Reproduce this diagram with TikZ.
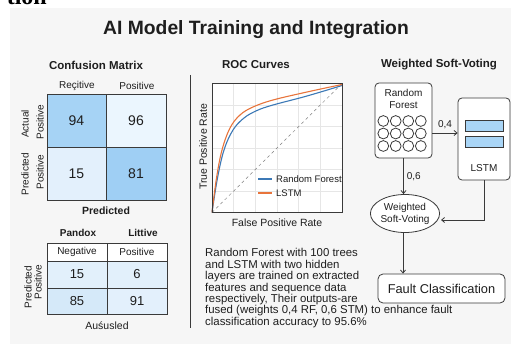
\documentclass[tikz,border=0pt]{standalone}
\usepackage{fontspec}
\setmainfont{Liberation Sans}
\newfontfamily\fragfont{Liberation Serif}
\usetikzlibrary{arrows.meta,shapes.geometric}
\definecolor{panel}{HTML}{F6F6F6}
\definecolor{ink}{HTML}{1E1E1E}
\definecolor{edge}{HTML}{3A3A3A}
\definecolor{cellA}{HTML}{A6D3F5}
\definecolor{cellB}{HTML}{EBF6FE}
\definecolor{cellC}{HTML}{E3F0FC}
\definecolor{cellD}{HTML}{9FCFF4}
\definecolor{cellE}{HTML}{E2F0FB}
\definecolor{cellF}{HTML}{D5E9F9}
\definecolor{barblue}{HTML}{A9D5F6}
\definecolor{rfblue}{HTML}{3C79B6}
\definecolor{lstmorange}{HTML}{E8743B}
\definecolor{gridgray}{HTML}{E6E6E6}
\tikzset{
  lbl/.style={text=ink, inner sep=0pt},
  head/.style={lbl, font=\fontsize{11.5}{13}\selectfont\bfseries},
  small/.style={lbl, font=\fontsize{10}{11}\selectfont},
  cellbox/.style={draw=edge, line width=0.8pt, text=ink, inner sep=0pt},
  numA/.style={cellbox, font=\fontsize{14}{16}\selectfont},
  numB/.style={cellbox, font=\fontsize{13}{15}\selectfont},
  roundbox/.style={draw=edge, line width=0.8pt, rounded corners=4pt, fill=white, inner sep=0pt},
  arr/.style={draw=edge, line width=0.8pt, -{Straight Barb[length=3pt,width=5pt]}},
}
\begin{document}
\begin{tikzpicture}[x=1pt,y=-1pt]
\useasboundingbox (0,0) rectangle (511,344);
\fill[white] (0,0) rectangle (511,344);
\fill[panel] (10,8) rectangle (511,344);
% cropped caption fragment
\node[anchor=base east, inner sep=0pt, font=\fontsize{24}{26}\fragfont\bfseries] (frag) at (47,4.5) {tion};

% title
\node[lbl, font=\fontsize{19.3}{22}\selectfont\bfseries] (title) at (256,30) {AI Model Training and Integration};

% section headings
\node[head] (hcm) at (96,65) {Confusion Matrix};
\node[head] (hroc) at (256,65) {ROC Curves};
\node[head] (hwsv) at (439,65) {Weighted Soft-Voting};

% separator
\draw[edge, line width=0.9pt] (190,75) -- (190,328);

% ---------- confusion matrix 1
\node[small] (c1h1) at (77,86) {Reçitive};
\node[small] (c1h2) at (137,86) {Positive};
\node[numA, fill=cellA, minimum width=59pt, minimum height=53pt] (m11) at (76.5,120.5) {94};
\node[numA, fill=cellB, minimum width=60pt, minimum height=53pt] (m12) at (136,120.5) {96};
\node[numA, fill=cellC, minimum width=59pt, minimum height=53pt] (m21) at (76.5,173.5) {15};
\node[numA, fill=cellD, minimum width=60pt, minimum height=53pt] (m22) at (136,173.5) {81};
\node[small, rotate=90] (r1a) at (25,124) {Actual};
\node[small, rotate=90] (r1b) at (40,122) {Positive};
\node[small, rotate=90] (r2a) at (25,174) {Predicted};
\node[small, rotate=90] (r2b) at (40,172) {Positive};
\node[lbl, font=\fontsize{10.5}{12}\selectfont\bfseries] (c1pred) at (106,211) {Predicted};

% ---------- confusion matrix 2
\node[lbl, font=\fontsize{10}{11}\selectfont\bfseries] (c2h1) at (78,233) {Pandox};
\node[lbl, font=\fontsize{10}{11}\selectfont\bfseries] (c2h2) at (143,233) {Littive};
\node[cellbox, fill=white, font=\fontsize{10}{11}\selectfont, minimum width=60pt, minimum height=18pt] (n11) at (77,252) {Negative};
\node[cellbox, fill=white, font=\fontsize{10}{11}\selectfont, minimum width=60pt, minimum height=18pt] (n12) at (137,252) {Positive};
\node[numB, fill=cellE, minimum width=60pt, minimum height=27pt] (n21) at (77,274.5) {15};
\node[numB, fill=cellE, minimum width=60pt, minimum height=27pt] (n22) at (137,274.5) {6};
\node[numB, fill=cellF, minimum width=60pt, minimum height=26pt] (n31) at (77,301) {85};
\node[numB, fill=cellC, minimum width=60pt, minimum height=26pt] (n32) at (137,301) {91};
\node[small, rotate=90] (r3a) at (28,287) {Predicted};
\node[small, rotate=90] (r3b) at (38,282) {Positive};
\node[lbl, font=\fontsize{10.5}{12}\selectfont] (c2foot) at (107,326) {Auśusled};

% ---------- ROC
\fill[white] (212,83.5) rectangle (342,212.5);
\foreach \k in {1,...,5} {
  \draw[gridgray, line width=0.4pt] (212,83.5+21.5*\k) -- (342,83.5+21.5*\k);
  \draw[gridgray, line width=0.4pt] (212+21.67*\k,83.5) -- (212+21.67*\k,212.5);
}
\draw[gray, dashed, line width=0.5pt] (212,212.5) -- (342,83.5);
\draw[rfblue, line width=1.1pt] plot[smooth, tension=0.6] coordinates {(212,212.5) (217.5,178) (224,150) (233,130) (244,118) (257,110.5) (273,105) (307,96) (342,85.5)};
\draw[lstmorange, line width=1.1pt] plot[smooth, tension=0.6] coordinates {(212,212.5) (216.5,178) (222,150) (230,128) (240,115) (253,107) (273,100) (307,92) (342,84.5)};
\node[draw=edge, line width=0.9pt, minimum width=130pt, minimum height=129pt, inner sep=0pt] (rocbox) at (277,148) {};
\draw[rfblue, line width=1.1pt] (258,179) -- (272,179);
\draw[lstmorange, line width=1.1pt] (258,193) -- (272,193);
\node[lbl, anchor=west, font=\fontsize{9.5}{11}\selectfont] (legrf) at (276,179) {Random Forest};
\node[lbl, anchor=west, font=\fontsize{9.5}{11}\selectfont] (leglstm) at (276,193) {LSTM};
\node[lbl, rotate=90, font=\fontsize{10.5}{12}\selectfont] (ylab) at (203,147) {True Positive Rate};
\node[lbl, font=\fontsize{10.5}{12}\selectfont] (xlab) at (277,223) {False Positive Rate};

% ---------- weighted soft voting
\node[roundbox, minimum width=57pt, minimum height=75pt] (rf) at (403.5,120.5) {};
\node[small, align=center, font=\fontsize{10}{12}\selectfont] (rft) at (403.5,99) {Random\\Forest};
\foreach \cx in {383.3,395.7,408.3,420.8} {
  \foreach \cy in {121,133.5,146} {
    \draw[edge, line width=0.8pt] (\cx,\cy) circle[radius=5.4pt];
  }
}
\node[roundbox, minimum width=52pt, minimum height=82pt] (lstm) at (484,139) {};
\draw[edge, line width=0.7pt, fill=barblue] (465,120) rectangle (503,131);
\draw[edge, line width=0.7pt, fill=barblue] (465,136) rectangle (503,147);
\node[small] (lstmt) at (484,168) {LSTM};
\node[draw=edge, line width=0.8pt, fill=white, ellipse, minimum width=57pt, minimum height=38pt, inner sep=0pt, align=center, text=ink, font=\fontsize{10}{12}\selectfont] (wsv) at (405,213.5) {Weighted\\Soft-Voting};
\node[roundbox, rounded corners=5pt, minimum width=127pt, minimum height=29pt, font=\fontsize{12.8}{14}\selectfont, text=ink] (fault) at (441.5,288.5) {Fault Classification};
\coordinate (wsvin) at (441,220);

\draw[arr] ([yshift=-12.5pt]rf.east) -- ([yshift=6pt]lstm.west) node[lbl, midway, above=4pt, font=\fontsize{10}{11}\selectfont] (w04) {0,4};
\draw[arr] (rf.south) -- (wsv.north -| rf.south) node[lbl, midway, right=3pt, font=\fontsize{10}{11}\selectfont] (w06) {0,6};
\draw[arr] (lstm.south) |- (wsvin);
\draw[arr] (wsv.south -| 403,0) -- (fault.north -| 403,0);

% ---------- description
\node[lbl, anchor=north west, align=left, font=\fontsize{11.4}{11.4}\selectfont] (para) at (205,248.5) {Random Forest with 100 trees\\and LSTM with two hidden\\layers are trained on extracted\\features and sequence data\\respectively, Their outputs-are\\fused (weights 0,4 RF, 0,6 STM) to enhance fault\\classification accuracy to 95.6\%};
\end{tikzpicture}
\end{document}
